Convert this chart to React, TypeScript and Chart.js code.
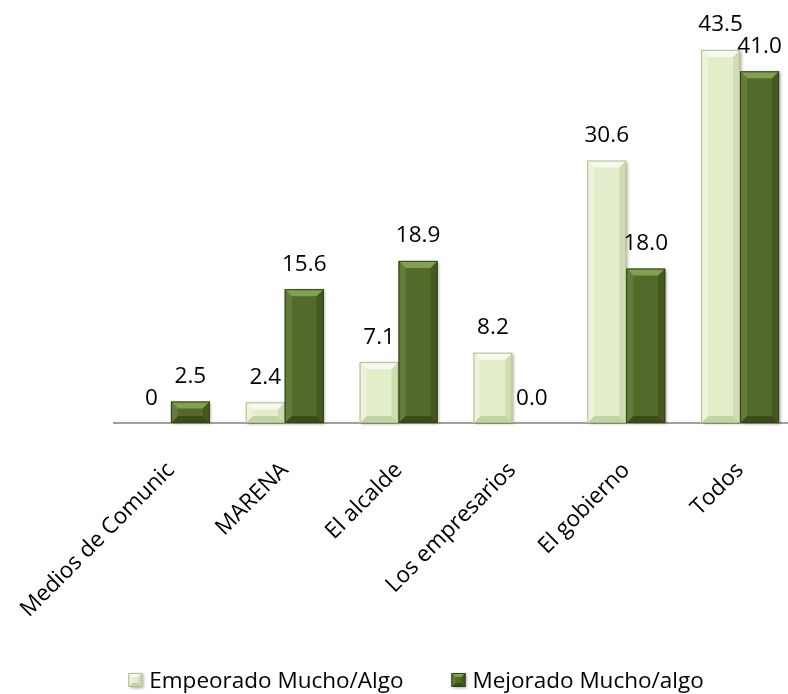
import React, { useEffect, useRef } from "react";
import { Chart, registerables } from "chart.js";

Chart.register(...registerables);

const categories = ["Medios de Comunic", "MARENA", "El alcalde", "Los empresarios", "El gobierno", "Todos"];
const seriesNames = ["Empeorado Mucho/Algo", "Mejorado Mucho/algo"];
const empeorado = [0, 2.4, 7.1, 8.2, 30.6, 43.5];
const mejorado = [2.5, 15.6, 18.9, 0.0, 18.0, 41.0];
const empeoradoLabels = ["0", "2.4", "7.1", "8.2", "30.6", "43.5"];
const mejoradoLabels = ["2.5", "15.6", "18.9", "0.0", "18.0", "41.0"];
const yMin = 0;
const yMax = 47.8;

const FONT = '"Open Sans", "DejaVu Sans", sans-serif';
const FONT_SIZE = 22.5;

const palettes = [
  { face: "#e2edc9", top: "#f6faee", left: "#ecf3dc", right: "#d0ddb3", bottom: "#c4d3a2", border: "#b0c08e" },
  { face: "#536a2b", top: "#839f50", left: "#647c3a", right: "#45581f", bottom: "#3b4c1a", border: "#34431a" },
];

function drawBevel(ctx: CanvasRenderingContext2D, L: number, T: number, R: number, B: number, p: any, bevel: number) {
  const w = R - L;
  const h = B - T;
  if (h < 0.5) return;
  const b = Math.min(bevel, h / 2, w / 2);
  ctx.save();
  ctx.shadowColor = "rgba(0,0,0,0.35)";
  ctx.shadowBlur = 3;
  ctx.shadowOffsetX = 1.5;
  ctx.shadowOffsetY = 1;
  ctx.fillStyle = p.face;
  ctx.fillRect(L, T, w, h);
  ctx.restore();
  ctx.save();
  const poly = (pts: number[][], color: string) => {
    ctx.beginPath();
    ctx.moveTo(pts[0][0], pts[0][1]);
    for (let i = 1; i < pts.length; i++) ctx.lineTo(pts[i][0], pts[i][1]);
    ctx.closePath();
    ctx.fillStyle = color;
    ctx.fill();
  };
  poly([[L, T], [R, T], [R - b, T + b], [L + b, T + b]], p.top);
  poly([[L, B], [R, B], [R - b, B - b], [L + b, B - b]], p.bottom);
  poly([[L, T], [L + b, T + b], [L + b, B - b], [L, B]], p.left);
  poly([[R, T], [R - b, T + b], [R - b, B - b], [R, B]], p.right);
  ctx.strokeStyle = p.border;
  ctx.lineWidth = 1;
  ctx.strokeRect(L + 0.5, T + 0.5, w - 1, h - 1);
  ctx.restore();
}

const bevelPlugin = {
  id: "bevelBars",
  afterDatasetsDraw(chart: any) {
    const ctx = chart.ctx;
    chart.data.datasets.forEach((ds: any, di: number) => {
      const meta = chart.getDatasetMeta(di);
      meta.data.forEach((el: any) => {
        const { x, y, base, width } = el.getProps(["x", "y", "base", "width"], true);
        const L = x - width / 2;
        const R = x + width / 2;
        const T = Math.min(y, base);
        const B = Math.max(y, base);
        drawBevel(ctx, L, T, R, B, palettes[di], 7);
      });
    });
  },
};

const labelPlugin = {
  id: "valueLabels",
  afterDatasetsDraw(chart: any) {
    const ctx = chart.ctx;
    const texts = [empeoradoLabels, mejoradoLabels];
    ctx.save();
    ctx.font = `${FONT_SIZE}px ${FONT}`;
    ctx.fillStyle = "#000";
    ctx.textAlign = "center";
    ctx.textBaseline = "alphabetic";
    chart.data.datasets.forEach((ds: any, di: number) => {
      const meta = chart.getDatasetMeta(di);
      meta.data.forEach((el: any, i: number) => {
        const { x, y, base } = el.getProps(["x", "y", "base"], true);
        const T = Math.min(y, base);
        ctx.fillText(texts[di][i], x, T - 18.5);
      });
    });
    ctx.restore();
  },
};

const legendPlugin = {
  id: "customLegend",
  afterDraw(chart: any) {
    const ctx = chart.ctx;
    ctx.save();
    ctx.font = `${FONT_SIZE}px ${FONT}`;
    const box = 14;
    const gapText = 7;
    const gapItems = 48;
    const widths = seriesNames.map((s) => ctx.measureText(s).width);
    const total = widths.reduce((a, w) => a + box + gapText + w, 0) + gapItems * (seriesNames.length - 1);
    const center = 416;
    let x = center - total / 2;
    const baseline = chart.height - 6;
    const boxTop = baseline - 15;
    seriesNames.forEach((name, i) => {
      drawBevel(ctx, x, boxTop, x + box, boxTop + box, palettes[i], 4);
      ctx.fillStyle = "#000";
      ctx.textAlign = "left";
      ctx.textBaseline = "alphabetic";
      ctx.fillText(name, x + box + gapText, baseline);
      x += box + gapText + widths[i] + gapItems;
    });
    ctx.restore();
  },
};

export default function App() {
  const ref = useRef<HTMLCanvasElement>(null);
  useEffect(() => {
    if (!ref.current) return;
    const chart = new Chart(ref.current, {
      type: "bar",
      data: {
        labels: categories,
        datasets: [
          { label: seriesNames[0], data: empeorado, backgroundColor: "rgba(0,0,0,0)", borderWidth: 0 },
          { label: seriesNames[1], data: mejorado, backgroundColor: "rgba(0,0,0,0)", borderWidth: 0 },
        ],
      },
      options: {
        responsive: false,
        animation: false,
        devicePixelRatio: 1,
        layout: { padding: { left: 114, right: 3, top: 13, bottom: 71 } },
        datasets: { bar: { categoryPercentage: 0.685, barPercentage: 1.0 } },
        plugins: {
          legend: { display: false },
          tooltip: { enabled: false },
          title: { display: false },
        },
        scales: {
          x: {
            grid: { display: false },
            border: { display: true, color: "#a0a0a0", width: 2 },
            ticks: {
              color: "#000",
              font: { family: FONT, size: FONT_SIZE },
              minRotation: 45,
              maxRotation: 45,
              autoSkip: false,
              padding: 26,
            },
            afterFit(scale: any) {
              scale.height = 200;
              scale.paddingLeft = 0;
              scale.paddingRight = 0;
            },
          },
          y: {
            display: false,
            min: yMin,
            max: yMax,
          },
        },
      },
      plugins: [bevelPlugin, labelPlugin, legendPlugin],
    } as any);
    return () => chart.destroy();
  }, []);
  return (
    <div style={{ position: "absolute", left: 0, top: 0, width: 788, height: 694, overflow: "hidden", background: "#fff" }}>
      <canvas ref={ref} width={800} height={694} style={{ display: "block" }} />
    </div>
  );
}
